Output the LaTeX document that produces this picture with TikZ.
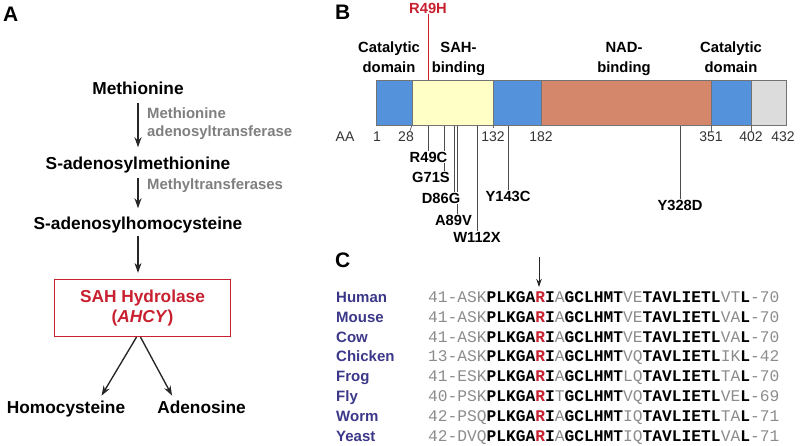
\documentclass[tikz,border=0pt]{standalone}
\usepackage{fontspec}
\setmainfont{Liberation Sans}
\newfontfamily\seqfont{Liberation Mono}
\usepackage{xcolor}
\usepackage{tikz}
\usetikzlibrary{arrows.meta,backgrounds}

\definecolor{hydred}{HTML}{C8202F}
\definecolor{enzgray}{HTML}{7F7F7F}
\definecolor{catblue}{HTML}{5592DC}
\definecolor{sahyellow}{HTML}{FFFFC6}
\definecolor{nadsalmon}{HTML}{D4876B}
\definecolor{tailgray}{HTML}{DCDCDC}
\definecolor{spnavy}{HTML}{3C3889}
\definecolor{seqgray}{HTML}{8C8C8C}

\newcommand{\sqg}[1]{\textcolor{seqgray}{#1}}
\newcommand{\sqb}[1]{\textbf{#1}}
\newcommand{\sqr}[1]{\textcolor{hydred}{\textbf{#1}}}

\begin{document}
\begin{tikzpicture}[
  x=1pt, y=-1pt,
  panel/.style={font=\fontsize{21}{24}\selectfont\bfseries, anchor=base west, inner sep=0pt},
  metab/.style={font=\fontsize{17.3}{20}\selectfont\bfseries, anchor=base, inner sep=2pt},
  enzyme/.style={
    font=\fontsize{14.9}{18}\selectfont\bfseries, text=enzgray,
    align=left, inner sep=0pt
  },
  hydbox/.style={
    draw=hydred, line width=1.2pt, text=hydred,
    minimum width=176pt, minimum height=57pt, align=center,
    font=\fontsize{17.3}{20}\selectfont\bfseries
  },
  domlab/.style={font=\fontsize{14.8}{20}\selectfont\bfseries, align=center, inner sep=0pt},
  aanum/.style={font=\fontsize{14}{16}\selectfont, text=black!80, inner sep=0pt},
  mutlab/.style={font=\fontsize{14.7}{16}\selectfont\bfseries, fill=white, inner sep=1pt},
  species/.style={font=\fontsize{15}{16}\selectfont\bfseries, text=spnavy, anchor=base west, inner sep=0pt},
  seqrow/.style={font=\fontsize{16.25}{18}\seqfont, anchor=base west, inner sep=0pt},
  arr/.style={-{Stealth[length=10pt,width=7pt]}, line width=1.35pt, draw=black!85},
  mutline/.style={line width=0.8pt, draw=black!70},
]
\useasboundingbox (0,0) rectangle (800,446);

%% ── A: pathway ──────────────────────────────────────────────────────────────
\node[panel] (lblA) at (3,21.5) {A};

\node[metab] (met)  at (138,95)  {Methionine};
\node[metab] (sam)  at (138,170) {S-adenosylmethionine};
\node[metab] (sah)  at (138,230) {S-adenosylhomocysteine};
\node[hydbox] (hyd) at (142.5,308) {SAH Hydrolase\\(\textit{AHCY})};
\node[metab] (homo) at (66,413)  {Homocysteine};
\node[metab] (ado)  at (201.5,413) {Adenosine};

\node[enzyme, anchor=west] (mat) at (147,123.5) {Methionine\\adenosyltransferase};
\node[enzyme, anchor=base west] (mtr) at (147,190) {Methyltransferases};

\draw[arr, shorten <=6pt, shorten >=8pt] (met.south) -- (sam.north);
\draw[arr, shorten <=2pt, shorten >=7pt] (sam.south) -- (sah.north);
\draw[arr, shorten >=6pt] (sah.south) -- (sah.south |- hyd.north);
\draw[arr, shorten >=3pt] ([xshift=-6pt]hyd.south) -- ([xshift=34pt]homo.north);
\draw[arr, shorten >=3pt] ([xshift=-2pt]hyd.south) -- ([xshift=-28pt]ado.north);

%% ── B: protein domains ──────────────────────────────────────────────────────
\node[panel] (lblB) at (335,20) {B};

\foreach \xa/\xb/\col in {376/412/catblue, 412/493/sahyellow, 493/541/catblue,
                          541/711/nadsalmon, 711/751/catblue, 751/786/tailgray}
  \draw[fill=\col, draw=black!55, line width=0.6pt] (\xa,80) rectangle (\xb,125);

% ticks under the bar
\draw[black!60, line width=0.7pt] (412,125) -- (409.5,132);
\draw[black!60, line width=0.7pt] (493,125) -- (493,128);
\draw[black!60, line width=0.7pt] (711,125) -- (711,132);
\draw[black!60, line width=0.7pt] (751,125) -- (751,132);

\node[domlab] (catN) at (389,57.6)   {Catalytic\\domain};
\node[domlab] (sahD) at (458.5,59.2) {SAH-\\binding};
\node[domlab] (nadD) at (624,59.2)   {NAD-\\binding};
\node[domlab] (catC) at (731,57.6)   {Catalytic\\domain};

\node[aanum] (aa)   at (345,137) {AA};
\node[aanum] (n1)   at (377,137) {1};
\node[aanum] (n28)  at (406,137) {28};
\node[aanum] (n132) at (493,137) {132};
\node[aanum] (n182) at (541,137) {182};
\node[aanum] (n351) at (711,137) {351};
\node[aanum] (n402) at (751,137) {402};
\node[aanum] (n432) at (783,137) {432};

\node[font=\fontsize{14.7}{16}\selectfont\bfseries, text=hydred, inner sep=1pt] (r49h) at (428,8) {R49H};
\draw[hydred, line width=0.8pt] (r49h.south) -- (428,80);

\node[mutlab] (r49c)  at (428.5,157) {R49C};
\node[mutlab] (g71s)  at (431,177)   {G71S};
\node[mutlab] (d86g)  at (441,198)   {D86G};
\node[mutlab] (a89v)  at (453.5,220) {A89V};
\node[mutlab] (w112x) at (477,237)   {W112X};
\node[mutlab] (y143c) at (508,196.5) {Y143C};
\node[mutlab] (y328d) at (680,205)   {Y328D};

\begin{scope}[on background layer]
  \draw[mutline] (428,125) -- (428,0 |- r49c.north);
  \draw[mutline] (444,125) -- (444,0 |- g71s.north);
  \draw[mutline] (454,125) -- (454,0 |- d86g.north);
  \draw[mutline] (457,125) -- (457,0 |- a89v.north);
  \draw[mutline] (477,125) -- (w112x.north);
  \draw[mutline] (508,125) -- (y143c.north);
  \draw[mutline] (680,125) -- (y328d.north);
\end{scope}

%% ── C: alignment ────────────────────────────────────────────────────────────
\node[panel] (lblC) at (335,268) {C};

\coordinate (argtop) at (539,257);
\coordinate (argtip) at (539,287);
\draw[-{Stealth[length=8pt,width=5.5pt]}, line width=0.9pt, black!85] (argtop) -- (argtip);

\node[species] (human)   at (336,302.5) {Human};
\node[species] (mouse)   at (336,322.3) {Mouse};
\node[species] (cow)     at (336,342.1) {Cow};
\node[species] (chicken) at (336,361.9) {Chicken};
\node[species] (frog)    at (336,381.7) {Frog};
\node[species] (fly)     at (336,401.5) {Fly};
\node[species] (worm)    at (336,421.3) {Worm};
\node[species] (yeast)   at (336,441.1) {Yeast};

\node[seqrow] (sHuman)   at (428,302.5) {\sqg{41-ASK}\sqb{PLKGA}\sqr{R}\sqb{I}\sqg{A}\sqb{GCLHMT}\sqg{VE}\sqb{TAVLIETL}\sqg{VT}\sqb{L}\sqg{-70}};
\node[seqrow] (sMouse)   at (428,322.3) {\sqg{41-ASK}\sqb{PLKGA}\sqr{R}\sqb{I}\sqg{A}\sqb{GCLHMT}\sqg{VE}\sqb{TAVLIETL}\sqg{VA}\sqb{L}\sqg{-70}};
\node[seqrow] (sCow)     at (428,342.1) {\sqg{41-ASK}\sqb{PLKGA}\sqr{R}\sqb{I}\sqg{A}\sqb{GCLHMT}\sqg{VE}\sqb{TAVLIETL}\sqg{VA}\sqb{L}\sqg{-70}};
\node[seqrow] (sChicken) at (428,361.9) {\sqg{13-ASK}\sqb{PLKGA}\sqr{R}\sqb{I}\sqg{A}\sqb{GCLHMT}\sqg{VQ}\sqb{TAVLIETL}\sqg{IK}\sqb{L}\sqg{-42}};
\node[seqrow] (sFrog)    at (428,381.7) {\sqg{41-ESK}\sqb{PLKGA}\sqr{R}\sqb{I}\sqg{A}\sqb{GCLHMT}\sqg{LQ}\sqb{TAVLIETL}\sqg{TA}\sqb{L}\sqg{-70}};
\node[seqrow] (sFly)     at (428,401.5) {\sqg{40-PSK}\sqb{PLKGA}\sqr{R}\sqb{I}\sqg{T}\sqb{GCLHMT}\sqg{VQ}\sqb{TAVLIETL}\sqg{VE}\sqb{L}\sqg{-69}};
\node[seqrow] (sWorm)    at (428,421.3) {\sqg{42-PSQ}\sqb{PLKGA}\sqr{R}\sqb{I}\sqg{A}\sqb{GCLHMT}\sqg{IQ}\sqb{TAVLIETL}\sqg{TA}\sqb{L}\sqg{-71}};
\node[seqrow] (sYeast)   at (428,441.1) {\sqg{42-DVQ}\sqb{PLKGA}\sqr{R}\sqb{I}\sqg{A}\sqb{GCLHMT}\sqg{IQ}\sqb{TAVLIETL}\sqg{VA}\sqb{L}\sqg{-71}};

\end{tikzpicture}
\end{document}
